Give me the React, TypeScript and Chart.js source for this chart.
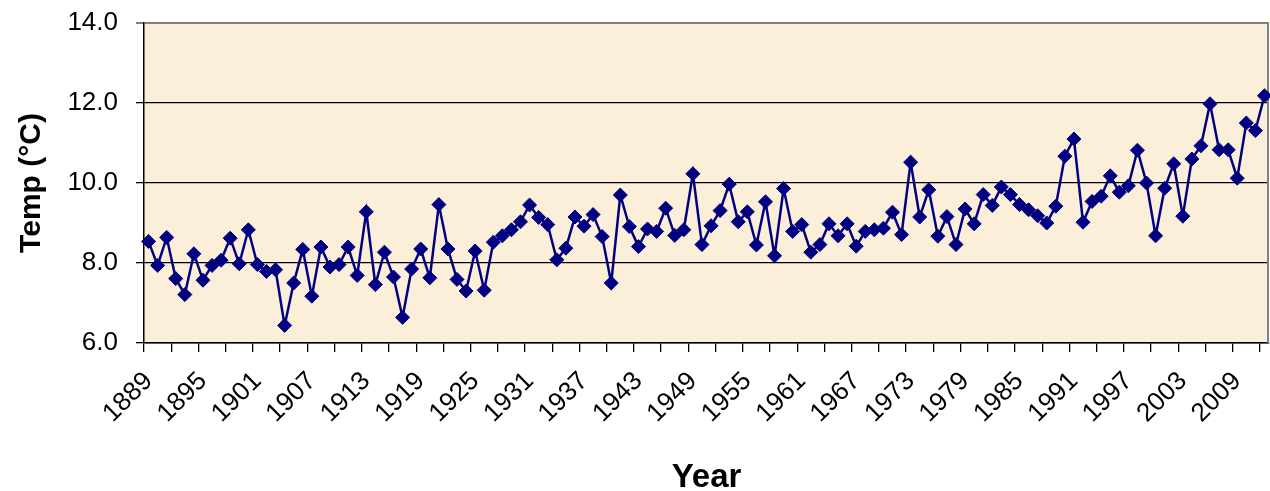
import { useEffect, useRef } from 'react';
import { Chart, registerables } from 'chart.js';

Chart.register(...registerables);

const FIRST_YEAR = 1889;
const LAST_YEAR = 2012;
const years: string[] = Array.from({ length: LAST_YEAR - FIRST_YEAR + 1 }, (_, i) => String(FIRST_YEAR + i));

const temps: number[] = [
  8.54, 7.94, 8.64, 7.61, 7.21, 8.23, 7.57, 7.94, 8.07, 8.62,
  7.98, 8.83, 7.96, 7.79, 7.83, 6.44, 7.50, 8.34, 7.17, 8.40,
  7.90, 7.96, 8.40, 7.69, 9.28, 7.46, 8.27, 7.65, 6.64, 7.85,
  8.35, 7.63, 9.46, 8.35, 7.59, 7.30, 8.30, 7.32, 8.52, 8.68,
  8.83, 9.03, 9.45, 9.14, 8.96, 8.08, 8.37, 9.15, 8.92, 9.21,
  8.66, 7.50, 9.70, 8.91, 8.41, 8.85, 8.79, 9.37, 8.69, 8.83,
  10.23, 8.46, 8.93, 9.31, 9.97, 9.03, 9.28, 8.45, 9.53, 8.18,
  9.86, 8.79, 8.96, 8.27, 8.46, 8.98, 8.68, 8.98, 8.42, 8.79,
  8.83, 8.87, 9.27, 8.71, 10.52, 9.15, 9.83, 8.67, 9.16, 8.46,
  9.35, 8.98, 9.71, 9.44, 9.90, 9.71, 9.46, 9.33, 9.18, 9.00,
  9.42, 10.67, 11.10, 9.02, 9.54, 9.67, 10.18, 9.77, 9.93, 10.82,
  10.00, 8.68, 9.87, 10.48, 9.17, 10.60, 10.93, 11.98, 10.83, 10.83,
  10.12, 11.50, 11.31, 12.18,
];

const Y_MIN = 6;
const Y_MAX = 14;
const Y_STEP = 2;
const LABEL_EVERY = 6;
const TICK_EVERY = 3;

const FONT = '"Liberation Sans", Arial, sans-serif';
const NAVY = '#000080';

const plotFrame = {
  id: 'plotFrame',
  beforeDraw(chart: any) {
    const { ctx, chartArea: a } = chart;
    ctx.save();
    ctx.fillStyle = '#FBEFD9';
    ctx.fillRect(a.left, a.top, a.right - a.left, a.bottom - a.top);
    ctx.restore();
  },
  beforeDatasetsDraw(chart: any) {
    const { ctx, chartArea: a } = chart;
    ctx.save();
    ctx.strokeStyle = '#808080';
    ctx.lineWidth = 2;
    ctx.beginPath();
    ctx.moveTo(a.right - 1, a.top);
    ctx.lineTo(a.right - 1, a.bottom);
    ctx.stroke();
    ctx.restore();
  },
};

export default function App() {
  const ref = useRef<HTMLCanvasElement | null>(null);

  useEffect(() => {
    if (!ref.current) return;
    const chart = new Chart(ref.current, {
      type: 'line',
      data: {
        labels: years,
        datasets: [
          {
            data: temps,
            borderColor: NAVY,
            backgroundColor: NAVY,
            borderWidth: 2.5,
            pointStyle: 'rectRot',
            pointRadius: 7,
            pointBorderWidth: 1,
            pointBackgroundColor: NAVY,
            pointBorderColor: NAVY,
            tension: 0,
            clip: false,
          },
        ],
      },
      options: {
        animation: false,
        responsive: true,
        maintainAspectRatio: false,
        layout: { autoPadding: false, padding: { top: 23, right: 1, left: 0, bottom: 0 } },
        plugins: {
          legend: { display: false },
          tooltip: { enabled: false },
        },
        scales: {
          x: {
            type: 'category',
            offset: true,
            afterFit: (scale: any) => {
              scale.height = 148;
              scale.paddingLeft = 0;
              scale.paddingRight = 0;
            },
            grid: {
              offset: true,
              drawOnChartArea: false,
              drawTicks: true,
              tickLength: 9,
              lineWidth: 1.3,
              color: (ctx: any) => (ctx.index % TICK_EVERY === 0 ? '#000' : 'rgba(0,0,0,0)'),
            },
            border: { display: true, color: '#000', width: 1.5 },
            ticks: {
              autoSkip: false,
              maxRotation: 45,
              minRotation: 45,
              padding: 14,
              color: '#000',
              font: { family: FONT, size: 26 },
              callback: (_v: any, i: number) => (i % LABEL_EVERY === 0 ? years[i] : ''),
            },
            title: {
              display: true,
              text: 'Year',
              color: '#000',
              font: { family: FONT, size: 33, weight: 'bold', lineHeight: 0.8 },
              padding: { top: 0, bottom: 0 },
            },
          },
          y: {
            min: Y_MIN,
            max: Y_MAX,
            afterFit: (scale: any) => {
              scale.width = 144;
              scale.paddingTop = 0;
              scale.paddingBottom = 0;
            },
            grid: {
              drawTicks: true,
              tickLength: 8,
              lineWidth: (ctx: any) => (ctx.tick && ctx.tick.value === Y_MAX ? 2 : 1.3),
              color: (ctx: any) => (ctx.tick && ctx.tick.value === Y_MAX ? '#808080' : '#000'),
            },
            border: { display: true, color: '#000', width: 1.5 },
            ticks: {
              stepSize: Y_STEP,
              padding: 18,
              color: '#000',
              font: { family: FONT, size: 26 },
              callback: (v: any) => Number(v).toFixed(1),
            },
            title: {
              display: true,
              text: 'Temp (°C)',
              color: '#000',
              font: { family: FONT, size: 30, weight: 'bold' },
              padding: { top: 14, bottom: 0 },
            },
          },
        },
      },
      plugins: [plotFrame],
    });
    return () => chart.destroy();
  }, []);

  return (
    <div style={{ position: 'absolute', left: 0, top: 0, width: 1270, height: 491, background: '#fff' }}>
      <canvas ref={ref} />
    </div>
  );
}
